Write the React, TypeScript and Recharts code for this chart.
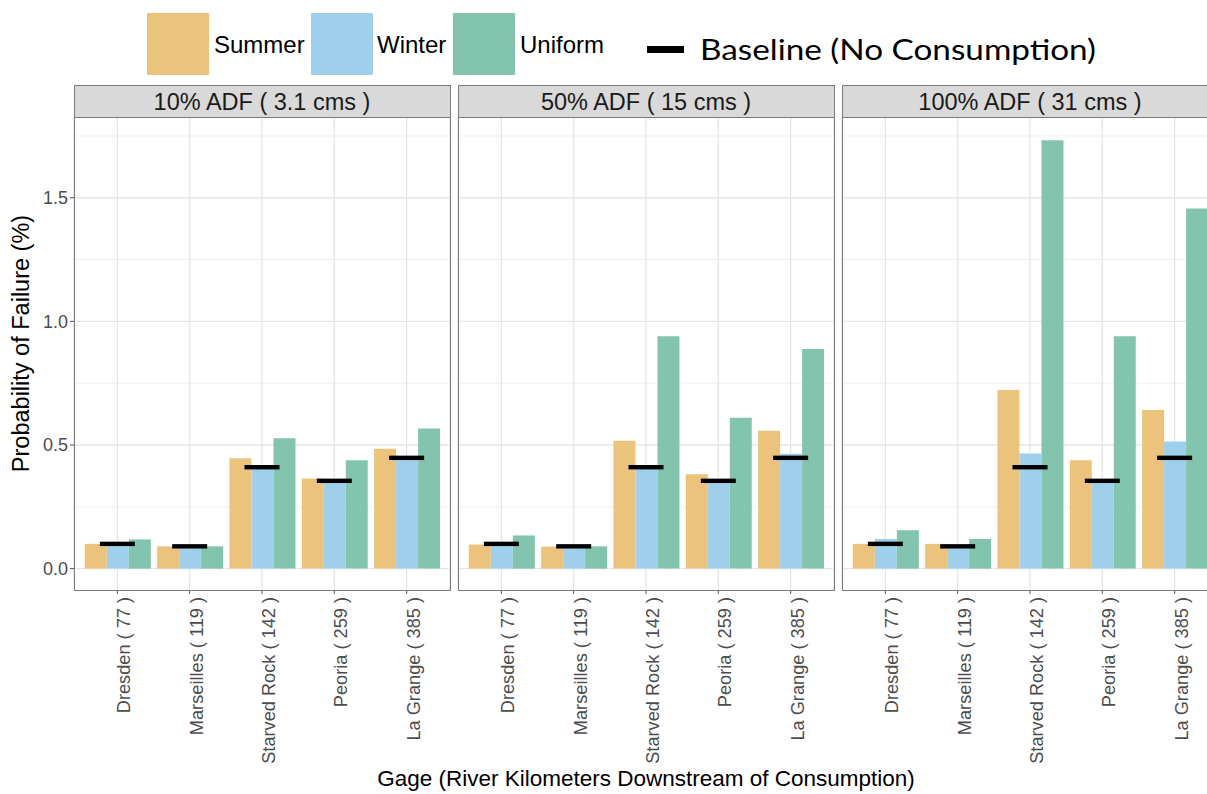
import React from "react";
import { ComposedChart, Bar, Scatter, XAxis, YAxis, CartesianGrid } from "recharts";

// ---------- data ----------
const gages = ["Dresden ( 77 )", "Marseilles ( 119 )", "Starved Rock ( 142 )", "Peoria ( 259 )", "La Grange ( 385 )"];
const baselineValues = [0.1, 0.09, 0.41, 0.355, 0.448];

const panelTitles = ["10% ADF ( 3.1 cms )", "50% ADF ( 15 cms )", "100% ADF ( 31 cms )"];

const summer10 = [0.1, 0.09, 0.446, 0.364, 0.485];
const winter10 = [0.1, 0.09, 0.41, 0.355, 0.448];
const uniform10 = [0.118, 0.09, 0.527, 0.438, 0.567];

const summer50 = [0.097, 0.089, 0.517, 0.382, 0.558];
const winter50 = [0.105, 0.09, 0.41, 0.355, 0.465];
const uniform50 = [0.134, 0.09, 0.94, 0.61, 0.888];

const summer100 = [0.1, 0.1, 0.722, 0.438, 0.641];
const winter100 = [0.12, 0.09, 0.466, 0.355, 0.514];
const uniform100 = [0.155, 0.12, 1.733, 0.94, 1.456];

const seriesNames = ["Summer", "Winter", "Uniform"];
const seriesColors = ["#EBC37D", "#9ED0EC", "#82C4AE"];
const baselineLabel = "Baseline (No Consumption)";
const yTitle = "Probability of Failure (%)";
const xTitle = "Gage (River Kilometers Downstream of Consumption)";

const yTicks = [0, 0.5, 1, 1.5];
const yMinor = [0.25, 0.75, 1.25, 1.75];
const yDomain: [number, number] = [-0.0866, 1.8266];

const panelSeries = [
  [summer10, winter10, uniform10],
  [summer50, winter50, uniform50],
  [summer100, winter100, uniform100],
];

const buildRows = (s: number[][]) =>
  gages.map((g, i) => ({
    gage: g,
    summer: s[0][i],
    winter: s[1][i],
    uniform: s[2][i],
    baseline: baselineValues[i],
  }));

// ---------- layout ----------
const W = 1207;
const H = 794;
const PLOT_TOP = 117;
const PLOT_BOTTOM = 590;
const PANEL_W = 376;
const panelLefts = [74, 458, 842];
const FONT = "'Liberation Sans', Arial, Helvetica, sans-serif";
const BORDER = "#7A7A7A";

const XTick = (props: any) => {
  const { x, y, payload } = props;
  return (
    <g transform={`translate(${x},${y})`}>
      <text transform="rotate(-90)" x={-1} y={13} textAnchor="end" fontSize={18.2} fill="#4D4D4D" fontFamily={FONT}>
        {payload.value}
      </text>
    </g>
  );
};

const BaseMark = (props: any) => {
  const { cx, cy } = props;
  if (cx == null || cy == null) return null;
  return <rect x={cx - 17.5} y={cy - 2.2} width={35} height={4.4} fill="#000" />;
};

const Panel = ({ idx }: { idx: number }) => {
  const first = idx === 0;
  const data = buildRows(panelSeries[idx]);
  const marginLeft = first ? 0 : 2;
  const yAxisW = first ? 74 : 0;
  const width = marginLeft + yAxisW + PANEL_W + 2;
  const left = first ? 0 : panelLefts[idx] - 2;
  const bottomMargin = 24;
  const xAxisH = H - PLOT_BOTTOM - bottomMargin;
  return (
    <div style={{ position: "absolute", left, top: 0 }}>
      <ComposedChart
        width={width}
        height={H}
        data={data}
        margin={{ top: PLOT_TOP, right: 2, bottom: bottomMargin, left: marginLeft }}
        barCategoryGap="5%"
        barGap={0}
      >
        <CartesianGrid horizontalValues={yMinor} vertical={false} stroke="#F0F0F0" strokeWidth={1} />
        <CartesianGrid horizontalValues={yTicks} stroke="#E6E6E6" strokeWidth={1.3} />
        <XAxis
          dataKey="gage"
          type="category"
          padding={{ left: 7.2, right: 7.2 }}
          axisLine={false}
          tickLine={{ stroke: "#555", strokeWidth: 1 }}
          tickSize={4}
          tick={<XTick />}
          interval={0}
          height={xAxisH}
        />
        <YAxis
          hide={!first}
          width={yAxisW}
          domain={yDomain}
          ticks={yTicks}
          allowDataOverflow
          axisLine={false}
          tickLine={{ stroke: "#555", strokeWidth: 1 }}
          tickSize={4}
          tickFormatter={(v: number) => v.toFixed(1)}
          tick={{ fill: "#4D4D4D", fontSize: 18, fontFamily: FONT }}
        />
        <Bar dataKey="summer" fill={seriesColors[0]} isAnimationActive={false} />
        <Bar dataKey="winter" fill={seriesColors[1]} isAnimationActive={false} />
        <Bar dataKey="uniform" fill={seriesColors[2]} isAnimationActive={false} />
        <Scatter dataKey="baseline" shape={<BaseMark />} isAnimationActive={false} />
      </ComposedChart>
    </div>
  );
};

const Overlay = () => {
  const swatchX = [147, 311, 453];
  const textX = [214, 377, 520];
  return (
    <svg width={W} height={H} style={{ position: "absolute", left: 0, top: 0, pointerEvents: "none" }}>
      {panelLefts.map((pl, i) => (
        <g key={i}>
          <rect x={pl + 0.5} y={PLOT_TOP + 0.5} width={PANEL_W} height={PLOT_BOTTOM - PLOT_TOP} fill="none" stroke={BORDER} strokeWidth={1} />
          <rect x={pl + 0.5} y={85.5} width={PANEL_W} height={32} fill="#D9D9D9" stroke={BORDER} strokeWidth={1} />
          <text x={pl + PANEL_W / 2} y={110} textAnchor="middle" fontSize={23.5} fill="#1A1A1A" fontFamily={FONT}>
            {panelTitles[i]}
          </text>
        </g>
      ))}
      <text transform={`translate(29,${(PLOT_TOP + PLOT_BOTTOM) / 2 - 10}) rotate(-90)`} textAnchor="middle" fontSize={23.5} fill="#000" fontFamily={FONT}>
        {yTitle}
      </text>
      <text x={646} y={786} textAnchor="middle" fontSize={22.5} fill="#000" fontFamily={FONT}>
        {xTitle}
      </text>
      {seriesNames.map((n, i) => (
        <g key={n}>
          <rect x={swatchX[i]} y={13} width={62} height={62} fill={seriesColors[i]} />
          <text x={textX[i]} y={53} fontSize={24} fill="#000" fontFamily={FONT}>
            {n}
          </text>
        </g>
      ))}
      <rect x={647} y={46} width={37} height={7} fill="#000" />
      <text x={700} y={60} fontSize={29} fill="#000" fontFamily="Lato, 'Open Sans', sans-serif" textLength={396} lengthAdjust="spacingAndGlyphs">
        {baselineLabel}
      </text>
    </svg>
  );
};

export default function App() {
  return (
    <div style={{ position: "fixed", left: 0, top: 0, width: W, height: H, overflow: "hidden", background: "#fff" }}>
      {[0, 1, 2].map((i) => (
        <Panel key={i} idx={i} />
      ))}
      <Overlay />
    </div>
  );
}
